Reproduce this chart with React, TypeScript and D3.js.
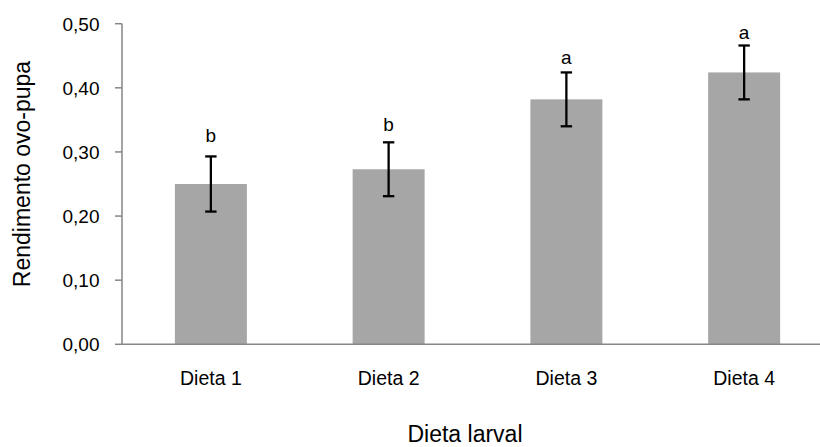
import React from "react";
import * as d3 from "d3";

const categories = ["Dieta 1", "Dieta 2", "Dieta 3", "Dieta 4"];
const values = [0.25, 0.273, 0.382, 0.424];
const errors = [0.043, 0.042, 0.042, 0.042];
const letters = ["b", "b", "a", "a"];
const letterPos = [0.316, 0.332, 0.437, 0.476];
const yTicks = [0, 0.1, 0.2, 0.3, 0.4, 0.5];
const yTickLabels = ["0,00", "0,10", "0,20", "0,30", "0,40", "0,50"];
const yTitle = "Rendimento ovo-pupa";
const xTitle = "Dieta larval";

const W = 820;
const H = 447;
const left = 122;
const right = 833;
const top = 23.7;
const bottom = 344.3;
const FONT = "'Liberation Sans', Arial, sans-serif";

export default function App() {
  const x = d3.scaleBand<string>().domain(categories).range([left, right]).paddingInner(0.595).paddingOuter(0.2975);
  const y = d3.scaleLinear().domain([0, 0.5]).range([bottom, top]);
  const bw = x.bandwidth();
  const axisColor = "#868686";
  return (
    <svg width={W} height={H} style={{ position: "absolute", left: 0, top: 0, background: "#fff" }} fontFamily={FONT}>
      <rect x={0} y={0} width={W} height={H} fill="#fff" />
      {categories.map((c, i) => (
        <rect key={c} x={x(c)} y={y(values[i])} width={bw} height={y(0) - y(values[i])} fill="#a6a6a6" />
      ))}
      {/* y axis */}
      <line x1={left} x2={left} y1={y(0.5)} y2={y(0)} stroke={axisColor} strokeWidth={1.5} />
      {yTicks.map((t, i) => (
        <g key={t}>
          <line x1={left - 7} x2={left} y1={y(t)} y2={y(t)} stroke={axisColor} strokeWidth={1.5} />
          <text x={99.5} y={y(t) + 6.8} textAnchor="end" fontSize={19} fill="#000">
            {yTickLabels[i]}
          </text>
        </g>
      ))}
      {/* x axis */}
      <line x1={left} x2={right} y1={y(0)} y2={y(0)} stroke={axisColor} strokeWidth={1.5} />
      {categories.map((c, i) => {
        const cx = (x(c) as number) + bw / 2;
        const hi = y(values[i] + errors[i]);
        const lo = y(values[i] - errors[i]);
        return (
          <g key={c + "e"}>
            <line x1={cx} x2={cx} y1={hi} y2={lo} stroke="#000" strokeWidth={2.3} />
            <line x1={cx - 5.7} x2={cx + 5.7} y1={hi} y2={hi} stroke="#000" strokeWidth={2.3} />
            <line x1={cx - 5.7} x2={cx + 5.7} y1={lo} y2={lo} stroke="#000" strokeWidth={2.3} />
            <text x={cx} y={y(letterPos[i])} textAnchor="middle" fontSize={19} fill="#000">
              {letters[i]}
            </text>
            <text x={cx} y={384.5} textAnchor="middle" fontSize={19.5} fill="#000">
              {c}
            </text>
          </g>
        );
      })}
      <text x={465} y={441.5} textAnchor="middle" fontSize={23} fill="#000">
        {xTitle}
      </text>
      <text transform={`translate(29.5,174) rotate(-90)`} textAnchor="middle" fontSize={23} fill="#000">
        {yTitle}
      </text>
    </svg>
  );
}
